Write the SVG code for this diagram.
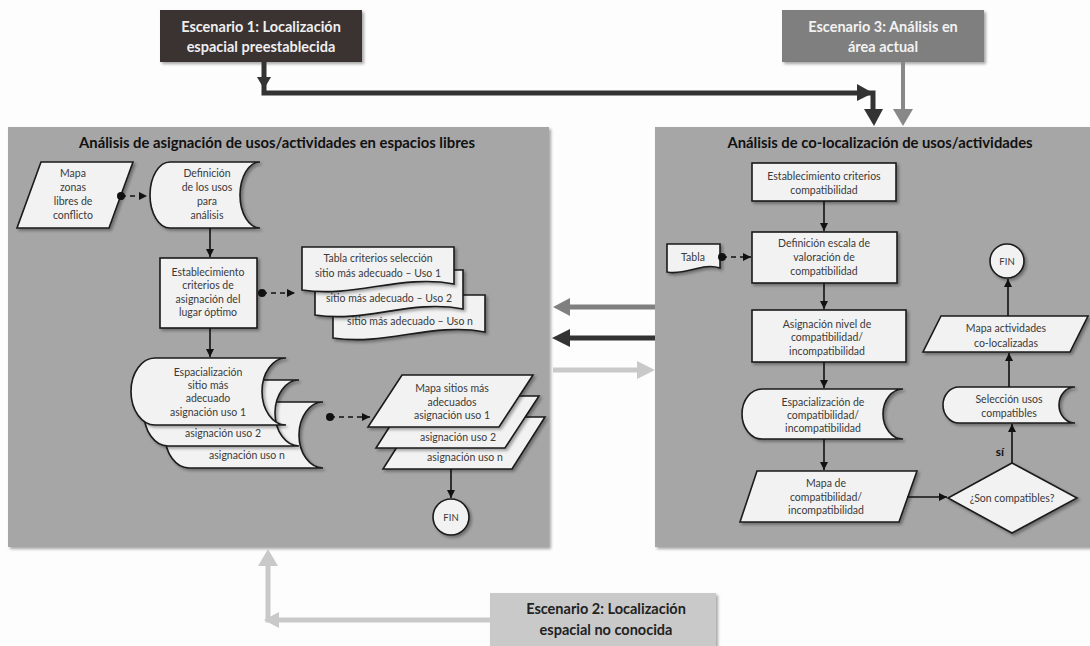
<svg xmlns="http://www.w3.org/2000/svg" width="1090" height="646" viewBox="0 0 1090 646">
<defs>
<filter id="sh" x="-10%" y="-10%" width="130%" height="140%">
<feDropShadow dx="2" dy="2" stdDeviation="1.5" flood-color="#000" flood-opacity="0.35"/>
</filter>
<marker id="ah" viewBox="0 0 10 10" refX="10" refY="5" markerWidth="8" markerHeight="8" markerUnits="userSpaceOnUse" orient="auto">
<path d="M0,0 L10,5 L0,10 Z" fill="#111"/>
</marker>
<marker id="dot" viewBox="0 0 10 10" refX="5" refY="5" markerWidth="8" markerHeight="8" markerUnits="userSpaceOnUse">
<circle cx="5" cy="5" r="5" fill="#111"/>
</marker>
</defs>
<style>
.panel{fill:#a6a6a6;filter:url(#sh)}
.n{fill:#f2f2f2;stroke:#1a1a1a;stroke-width:1.6;filter:url(#sh)}
.t{font-family:Lato,"Liberation Sans",sans-serif;font-size:10.5px;fill:#3a3a3a;text-anchor:middle}
.title{font-family:Lato,"Liberation Sans",sans-serif;font-size:14.8px;font-weight:bold;fill:#111;text-anchor:middle}
.sc{font-family:Lato,"Liberation Sans",sans-serif;font-size:14.5px;font-weight:bold;text-anchor:middle}
.c{fill:none;stroke:#111;stroke-width:1.6}
.d{fill:none;stroke:#111;stroke-width:1.6;stroke-dasharray:5 4}
</style>
<rect width="1090" height="646" fill="#fdfdfd"/>

<g id="panel-left">
<rect class="panel" x="8" y="127" width="541" height="420"/>
<text class="title" x="277" y="148">Análisis de asignación de usos/actividades en espacios libres</text>
</g>
<g id="panel-right">
<rect class="panel" x="655" y="127" width="440" height="420"/>
<text class="title" x="880" y="148">Análisis de co-localización de usos/actividades</text>
</g>

<g id="scenario1">
<rect x="160" y="10" width="202" height="52" fill="#3b3331" filter="url(#sh)"/>
<text class="sc" x="261" y="32" fill="#eeeeee">Escenario 1: Localización</text>
<text class="sc" x="261" y="52" fill="#eeeeee">espacial preestablecida</text>
</g>
<g id="scenario3">
<rect x="782" y="10" width="202" height="52" fill="#7f7f7f" filter="url(#sh)"/>
<text class="sc" x="883" y="32" fill="#f2f2f2">Escenario 3: Análisis en</text>
<text class="sc" x="883" y="52" fill="#f2f2f2">área actual</text>
</g>
<g id="scenario2">
<rect x="490" y="593" width="226" height="60" fill="#c9c9c9" filter="url(#sh)"/>
<text class="sc" x="606" y="614" fill="#222">Escenario 2: Localización</text>
<text class="sc" x="606" y="635" fill="#222">espacial no conocida</text>
</g>

<g id="mapa-zonas">
<path class="n" d="M41,162 H133 L109,228 H17 Z"/>
<text class="t" x="73" y="177">Mapa</text>
<text class="t" x="73" y="191">zonas</text>
<text class="t" x="73" y="205">libres de</text>
<text class="t" x="73" y="219">conflicto</text>
</g>
<g id="definicion-usos">
<path class="n" d="M170,162 H260 A20,33 0 0 0 260,228 H170 A20,33 0 0 1 170,162 Z"/>
<text class="t" x="207" y="177">Definición</text>
<text class="t" x="207" y="191">de los usos</text>
<text class="t" x="207" y="205">para</text>
<text class="t" x="207" y="219">análisis</text>
</g>
<g id="establecimiento-criterios">
<rect class="n" x="160" y="258" width="97" height="70"/>
<text class="t" x="208" y="276">Establecimiento</text>
<text class="t" x="208" y="289">criterios de</text>
<text class="t" x="208" y="303">asignación del</text>
<text class="t" x="208" y="316">lugar óptimo</text>
</g>
<g id="tabla-criterios">
<path class="n" d="M333,295 H485 V332 C432,322 386,346 333,338 Z"/>
<text class="t" x="410" y="325">sitio más adecuado – Uso n</text>
<path class="n" d="M315,270 H463 V309 C411,299 366,323 315,315 Z"/>
<text class="t" x="389" y="302">sitio más adecuado – Uso 2</text>
<path class="n" d="M302,247 H454 V284 C401,274 355,298 302,290 Z"/>
<text class="t" x="378" y="262">Tabla criterios selección</text>
<text class="t" x="378" y="277">sitio más adecuado – Uso 1</text>
</g>
<g id="espacializacion-sitio">
<path class="n" d="M189,402 H323 A24,33 0 0 0 323,468 H189 A24,33 0 0 1 189,402 Z"/>
<text class="t" x="247" y="459">asignación uso n</text>
<path class="n" d="M168,380 H299 A24,33 0 0 0 299,446 H168 A24,33 0 0 1 168,380 Z"/>
<text class="t" x="223" y="437">asignación uso 2</text>
<path class="n" d="M155,358 H286 A24,33.5 0 0 0 286,425 H155 A24,33.5 0 0 1 155,358 Z"/>
<text class="t" x="208" y="376">Espacialización</text>
<text class="t" x="208" y="389">sitio más</text>
<text class="t" x="208" y="402">adecuado</text>
<text class="t" x="208" y="416">asignación uso 1</text>
</g>
<g id="mapa-sitios">
<path class="n" d="M416,417 H545 L512,469 H383 Z"/>
<text class="t" x="465" y="461">asignación uso n</text>
<path class="n" d="M409,396 H539 L505,448 H376 Z"/>
<text class="t" x="458" y="441">asignación uso 2</text>
<path class="n" d="M402,375 H533 L499,427 H368 Z"/>
<text class="t" x="452" y="392">Mapa sitios más</text>
<text class="t" x="452" y="406">adecuados</text>
<text class="t" x="452" y="419">asignación uso 1</text>
</g>
<g id="fin-left">
<circle class="n" cx="451" cy="517" r="18"/>
<text class="t" x="451" y="521" style="font-size:9.5px">FIN</text>
</g>

<g id="est-criterios-compat">
<rect class="n" x="752" y="163" width="144" height="38"/>
<text class="t" x="824" y="180">Establecimiento criterios</text>
<text class="t" x="824" y="194">compatibilidad</text>
</g>
<g id="def-escala">
<rect class="n" x="752" y="232" width="145" height="51"/>
<text class="t" x="824" y="247">Definición escala de</text>
<text class="t" x="824" y="261">valoración de</text>
<text class="t" x="824" y="275">compatibilidad</text>
</g>
<g id="tabla">
<path class="n" d="M667,244 H720 V268 C702,262 686,276 667,272 Z"/>
<text class="t" x="693" y="261">Tabla</text>
</g>
<g id="asignacion-nivel">
<rect class="n" x="752" y="310" width="154" height="52"/>
<text class="t" x="827" y="328">Asignación nivel de</text>
<text class="t" x="827" y="341">compatibilidad/</text>
<text class="t" x="827" y="355">incompatibilidad</text>
</g>
<g id="espacializacion-compat">
<path class="n" d="M762,389 H903 A20,25 0 0 0 903,439 H762 A20,25 0 0 1 762,389 Z"/>
<text class="t" x="823" y="406">Espacialización de</text>
<text class="t" x="823" y="419">compatibilidad/</text>
<text class="t" x="823" y="432">incompatibilidad</text>
</g>
<g id="mapa-compat">
<path class="n" d="M757,471 H917 L899,522 H740 Z"/>
<text class="t" x="826" y="487">Mapa de</text>
<text class="t" x="826" y="501">compatibilidad/</text>
<text class="t" x="826" y="514">incompatibilidad</text>
</g>
<g id="son-compatibles">
<path class="n" d="M1012,463 L1077,498 L1012,533 L948,498 Z"/>
<text class="t" x="1012" y="502">¿Son compatibles?</text>
</g>
<g id="seleccion-usos">
<path class="n" d="M959,387 H1075 A16,18 0 0 0 1075,423 H959 A16,18 0 0 1 959,387 Z"/>
<text class="t" x="1009" y="403">Selección usos</text>
<text class="t" x="1009" y="417">compatibles</text>
</g>
<g id="mapa-actividades">
<path class="n" d="M941,316 H1088 L1070,352 H923 Z"/>
<text class="t" x="1006" y="332">Mapa actividades</text>
<text class="t" x="1006" y="347">co-localizadas</text>
</g>
<g id="fin-right">
<circle class="n" cx="1007" cy="261" r="17"/>
<text class="t" x="1007" y="265" style="font-size:9.5px">FIN</text>
</g>

<g id="connectors">
<path d="M264,62 V93 H873 V110" fill="none" stroke="#333" stroke-width="5"/>
<polygon points="257,77 271,77 264,89" fill="#333"/>
<polygon points="857,84 873,93 857,101" fill="#333"/>
<polygon points="864,109 883,109 874,126" fill="#333"/>
<path d="M903,62 V110" fill="none" stroke="#888" stroke-width="4"/>
<polygon points="893,109 913,109 903,126" fill="#888"/>
<path d="M490,620 H268 V566" fill="none" stroke="#c9c9c9" stroke-width="5"/>
<polygon points="279,612 279,628 264,620" fill="#c9c9c9"/>
<polygon points="258,566 278,566 268,549" fill="#c9c9c9"/>
<path d="M655,307 H569" stroke="#808080" stroke-width="5"/>
<polygon points="570,298 570,316 553,307" fill="#808080"/>
<path d="M655,338 H569" stroke="#333" stroke-width="5"/>
<polygon points="570,329 570,347 552,338" fill="#333"/>
<path d="M553,370 H638" stroke="#c9c9c9" stroke-width="5"/>
<polygon points="637,361 637,379 655,370" fill="#c9c9c9"/>
<path class="d" d="M121,196 H147" marker-start="url(#dot)" marker-end="url(#ah)"/>
<path class="c" d="M210,228 V257" marker-end="url(#ah)"/>
<path class="d" d="M262,293 H295" marker-start="url(#dot)" marker-end="url(#ah)"/>
<path class="c" d="M210,328 V357" marker-end="url(#ah)"/>
<path class="d" d="M330,417 H370" marker-start="url(#dot)" marker-end="url(#ah)"/>
<path class="c" d="M451,469 V498" marker-end="url(#ah)"/>
<path class="c" d="M824,201 V231" marker-end="url(#ah)"/>
<path class="d" d="M722,257 H751" marker-start="url(#dot)" marker-end="url(#ah)"/>
<path class="c" d="M824,283 V309" marker-end="url(#ah)"/>
<path class="c" d="M824,362 V388" marker-end="url(#ah)"/>
<path class="c" d="M824,439 V470" marker-end="url(#ah)"/>
<path class="c" d="M907,497 H947" marker-end="url(#ah)"/>
<path class="c" d="M1012,463 V424" marker-end="url(#ah)"/>
<path class="c" d="M1009,387 V353" marker-end="url(#ah)"/>
<path class="c" d="M1008,316 V279" marker-end="url(#ah)"/>
<text x="1000" y="456" style="font-family:Lato,'Liberation Sans',sans-serif;font-size:12px;font-weight:bold;fill:#111;text-anchor:middle">sí</text>
</g>
</svg>
